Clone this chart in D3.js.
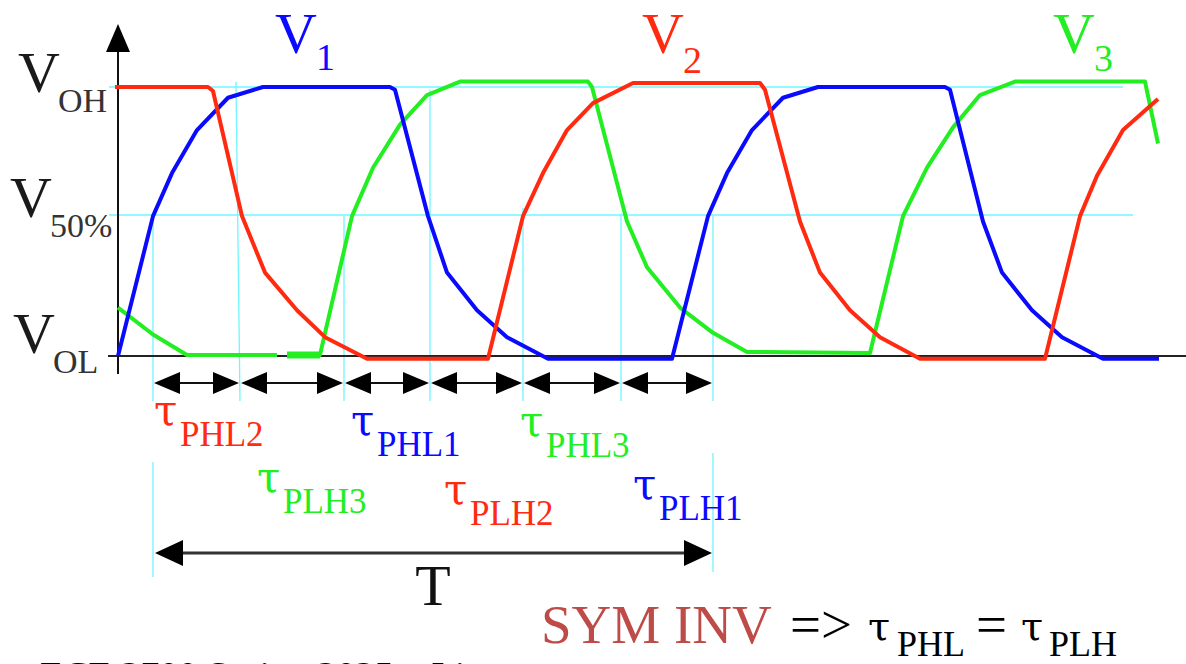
<!DOCTYPE html>
<meta charset="utf-8">
<style>
body { margin: 0; background: #fff; }
svg { display: block; font-family: "Liberation Serif", "DejaVu Serif", serif; }
.tau { font-family: "DejaVu Serif", "Liberation Serif", serif; }
</style>
<svg width="1186" height="664"></svg>
<script src="https://d3js.org/d3.v7.min.js"></script>
<script>

// time (arbitrary units) and normalized voltage (VOL = 0, VOH = 1)
var v1T = [0, 3.5, 5.4, 7.9, 11.0, 14.5, 27.2, 27.7, 31.0, 32.9, 35.9, 38.9, 43.0, 55.4, 59.0, 60.9, 63.4, 66.5, 70.0, 82.7, 83.2, 86.5, 88.4, 91.4, 94.4, 98.5, 104.1];
var v1V = [0, 0.52, 0.68, 0.84, 0.96, 1.0, 1.0, 0.99, 0.52, 0.31, 0.17, 0.07, -0.01, -0.01, 0.52, 0.68, 0.84, 0.96, 1.0, 1.0, 0.99, 0.50, 0.31, 0.17, 0.07, -0.01, -0.01];

var v2T = [-0.3, 9.0, 9.5, 12.4, 14.7, 17.9, 20.7, 24.9, 37.0, 40.5, 42.5, 44.9, 47.5, 51.5, 64.2, 64.7, 68.2, 70.2, 73.2, 76.2, 80.2, 92.7, 96.2, 97.9, 100.5, 104.0];
var v2V = [1.0, 1.0, 0.985, 0.52, 0.31, 0.17, 0.07, -0.01, -0.01, 0.52, 0.68, 0.84, 0.94, 1.015, 1.015, 0.99, 0.50, 0.31, 0.17, 0.07, -0.01, -0.01, 0.52, 0.67, 0.84, 0.955];

var v3T = [0, 3.5, 6.9, 15.9, 16.4, 16.9, 20.2, 23.4, 25.5, 28.2, 30.9, 34.2, 47.0, 47.4, 50.9, 52.9, 56.2, 59.5, 62.9, 75.2, 78.5, 80.9, 83.5, 86.2, 89.7, 102.7, 104.0];
var v3V = [0.18, 0.08, 0.004, 0.004, null, 0.004, 0.004, 0.52, 0.70, 0.86, 0.97, 1.02, 1.02, 1.0, 0.50, 0.33, 0.18, 0.086, 0.015, 0.011, 0.52, 0.70, 0.85, 0.97, 1.02, 1.02, 0.79];

var levelNames = ["OH", "50%", "OL"];
var levelV = [1.0, 0.524, 0];

// 50% crossing instants and the delays between them
var tickT = [3.5, 12.2, 22.6, 31.2, 40.5, 50.3, 59.5];
var tickTopV = [0.52, 1.02, 0.52, 0.99, 0.55, 0.53, 0.52];
var delayNames = ["PHL2", "PLH3", "PHL1", "PLH2", "PHL3", "PLH1"];
var seriesNames = ["1", "2", "3"];

var svg = d3.select("svg");
var colour = {"1": "#0a0aff", "2": "#ff2a10", "3": "#22ee22"};

var x = d3.scaleLinear().domain([0, 104.2]).range([118, 1160]);
var y = d3.scaleLinear().domain([0, 1]).range([356, 87]);

// label layout (pixels)
var tauDx = [1, 17, 7, 14, -3, 12];
var tauSubY = [446, 513, 456, 525, 457, 520];
var seriesLabelT = [15.7, 52.4, 93.5];
var seriesSubDy = [17, 20, 18];

// guide lines
var cyan = "#6ff6ff";
svg.selectAll(".level")
  .data(levelV.slice(0, 2))
  .enter().append("line")
  .attr("x1", x(-0.9))
  .attr("x2", function(d, i) { return x(i == 0 ? 100.5 : 101.5); })
  .attr("y1", function(d) { return y(d); })
  .attr("y2", function(d) { return y(d); })
  .style("stroke", cyan).style("stroke-width", 1.6);

svg.selectAll(".tick")
  .data(tickT)
  .enter().append("line")
  .attr("x1", function(d, i) { return x(d) - (i == 1 ? 4 : 0); })
  .attr("x2", function(d) { return x(d); })
  .attr("y1", function(d, i) { return y(tickTopV[i]); })
  .attr("y2", 401)
  .style("stroke", cyan).style("stroke-width", 1.3);

[[tickT[0], 462, 577], [tickT[6], 453, 572]].forEach(function(d) {
  svg.append("line")
    .attr("x1", x(d[0])).attr("x2", x(d[0]))
    .attr("y1", d[1]).attr("y2", d[2])
    .style("stroke", cyan).style("stroke-width", 1.3);
});

// axes
svg.append("line")
  .attr("x1", x(-1)).attr("x2", 1186)
  .attr("y1", y(0)).attr("y2", y(0))
  .style("stroke", "#222").style("stroke-width", 2);
svg.append("line")
  .attr("x1", x(0)).attr("x2", x(0))
  .attr("y1", 45).attr("y2", 374)
  .style("stroke", "#111").style("stroke-width", 2);
svg.append("path")
  .attr("d", "M" + x(0) + ",24L" + (x(0) - 12) + ",52L" + (x(0) + 12) + ",52Z")
  .style("fill", "#000");

// waveforms
var line = d3.line()
  .defined(function(d) { return d[1] != null; })
  .x(function(d) { return x(d[0]); })
  .y(function(d) { return y(d[1]); });

var waves = [[v3T, v3V, "3"], [v1T, v1V, "1"], [v2T, v2V, "2"]];
waves.forEach(function(w) {
  var pts = w[0].map(function(t, i) { return [t, w[1][i]]; });
  svg.append("path")
    .attr("d", line(pts))
    .style("fill", "none")
    .style("stroke", colour[w[2]])
    .style("stroke-width", 4)
    .style("stroke-linejoin", "round");
});
// heavier bit on V3 low level
svg.append("line")
  .attr("x1", x(16.9)).attr("x2", x(20.2))
  .attr("y1", y(0.004)).attr("y2", y(0.004))
  .style("stroke", colour["3"]).style("stroke-width", 7);

// level labels
var levelY = [[92, 112], [217, 237], [353, 373]];
var levelX = [[18, 58], [10, 50], [13, 53]];
levelNames.forEach(function(n, i) {
  svg.append("text").attr("x", levelX[i][0]).attr("y", levelY[i][0])
    .style("font-size", "58px").style("fill", "#1a1a1a").text("V");
  svg.append("text").attr("x", levelX[i][1]).attr("y", levelY[i][1])
    .style("font-size", "34px").style("fill", "#333").text(n);
});

// series labels
seriesNames.forEach(function(n, i) {
  var g = svg.append("g").style("fill", colour[n]);
  g.append("text").attr("x", x(seriesLabelT[i])).attr("y", 53)
    .style("font-size", "58px").text("V");
  g.append("text").attr("x", x(seriesLabelT[i]) + 41).attr("y", 53 + seriesSubDy[i])
    .style("font-size", "38px").text(n);
});

// delay arrows
function dblArrow(a, b, yy, hl, hh, w, col) {
  svg.append("line")
    .attr("x1", a + hl - 2).attr("x2", b - hl + 2)
    .attr("y1", yy).attr("y2", yy)
    .style("stroke", col).style("stroke-width", w);
  svg.append("path")
    .attr("d", "M" + a + "," + yy + "L" + (a + hl) + "," + (yy - hh) + "L" + (a + hl) + "," + (yy + hh) + "Z" +
               "M" + b + "," + yy + "L" + (b - hl) + "," + (yy - hh) + "L" + (b - hl) + "," + (yy + hh) + "Z")
    .style("fill", "#000");
}

d3.pairs(tickT).forEach(function(p) {
  dblArrow(x(p[0]) + 1, x(p[1]) - 1, 383, 26, 11, 2, "#111");
});
dblArrow(x(tickT[0]) + 2, x(tickT[6]) - 1, 553, 28, 13, 3, "#333");

// delay labels
delayNames.forEach(function(n, i) {
  var c = colour[n.slice(-1)];
  var lx = x(tickT[i]) + tauDx[i];
  svg.append("text").attr("class", "tau").attr("x", lx).attr("y", tauSubY[i] - 21)
    .style("font-size", "42px").style("fill", c).text("τ");
  svg.append("text").attr("x", lx + 26).attr("y", tauSubY[i])
    .style("font-size", "35px").style("fill", c).text(n);
});

svg.append("text").attr("x", (x(tickT[0]) + x(tickT[6])) / 2).attr("y", 605)
  .attr("text-anchor", "middle").style("font-size", "58px").style("fill", "#111").text("T");

// bottom note
svg.append("text").attr("x", 541).attr("y", 643)
  .style("font-size", "55px").style("fill", "#be4b48").text("SYM INV");
svg.append("text").attr("x", 790).attr("y", 643)
  .style("font-size", "55px").style("fill", "#000").text("=>");
svg.append("text").attr("class", "tau").attr("x", 868).attr("y", 640)
  .style("font-size", "40px").style("fill", "#000").text("τ");
svg.append("text").attr("x", 897).attr("y", 656)
  .style("font-size", "36px").style("fill", "#000").text("PHL");
svg.append("text").attr("x", 976).attr("y", 643)
  .style("font-size", "55px").style("fill", "#000").text("=");
svg.append("text").attr("class", "tau").attr("x", 1021).attr("y", 640)
  .style("font-size", "40px").style("fill", "#000").text("τ");
svg.append("text").attr("x", 1049).attr("y", 656)
  .style("font-size", "36px").style("fill", "#000").text("PLH");

svg.append("text").attr("x", 40).attr("y", 688)
  .style("font-size", "38px").style("fill", "#000").text("ECE 2700 Spring 2025 – Lin");

</script>
